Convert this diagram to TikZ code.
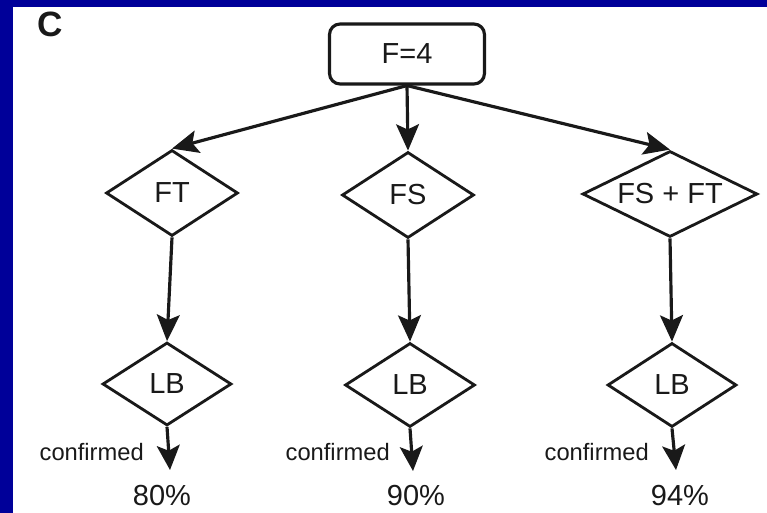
\documentclass[tikz,border=0pt]{standalone}
\usepackage{fontspec}
\setmainfont{Liberation Sans}
\usetikzlibrary{shapes.geometric,arrows.meta}
\definecolor{frameblue}{RGB}{0,0,153}
\definecolor{ink}{RGB}{25,25,25}
\begin{document}
\begin{tikzpicture}[x=0.02cm,y=-0.02cm,
  every node/.style={text=ink,font=\fontsize{16.5}{19}\selectfont},
  choice/.style={diamond,aspect=2,draw=ink,line width=1.6pt,inner sep=0pt,
    minimum width=2.64cm,minimum height=1.72cm},
  startbox/.style={draw=ink,rounded corners=6pt,line width=1.8pt,
    minimum width=3.1cm,minimum height=1.2cm},
  link/.style={draw=ink,line width=1.8pt,
    -{Stealth[length=15pt,width=13pt,inset=3pt]}},
  exitlink/.style={link,-{Stealth[length=14pt,width=13pt,inset=3pt]}},
  note/.style={font=\fontsize{13.5}{16}\selectfont,anchor=east},
  rate/.style={font=\fontsize{16.5}{19}\selectfont}]
\useasboundingbox (0,0) rectangle (767,513);
% frame
\fill[frameblue] (0,0) rectangle (767,513);
\fill[white] (13,7) rectangle (767,513);
% panel letter
\node[font=\fontsize{20}{24}\selectfont\bfseries] (panel) at (50,24) {C};
% root
\node[startbox] (root) at (407,54) {F=4};
% first level
\node[choice] (ft) at (172,193) {FT};
\node[choice] (fs) at (408,195) {FS};
\node[choice,minimum width=3.5cm] (fsft) at (670,194) {FS + FT};
% second level
\node[choice,minimum width=2.58cm,minimum height=1.66cm] (lb1) at (167,384) {LB};
\node[choice,minimum width=2.6cm,minimum height=1.68cm] (lb2) at (410,385) {LB};
\node[choice,minimum width=2.58cm,minimum height=1.68cm] (lb3) at (672,385) {LB};
% ends of the exit arrows
\coordinate (e1) at (170,470);
\coordinate (e2) at (413,471);
\coordinate (e3) at (676,470);
% connectors
\draw[link] (root.south) -- (ft.north);
\draw[link] (root.south) -- (fs.north);
\draw[link] (root.south) -- (fsft.north);
\draw[link] (ft.south) -- (lb1.north);
\draw[link] (fs.south) -- (lb2.north);
\draw[link] (fsft.south) -- (lb3.north);
\draw[exitlink] (lb1.south) -- (e1);
\draw[exitlink] (lb2.south) -- (e2);
\draw[exitlink] (lb3.south) -- (e3);
% labels
\node[note] (c1) at (150,452) {confirmed};
\node[note] (c2) at (396,452) {confirmed};
\node[note] (c3) at (655,452) {confirmed};
\node[rate] (r1) at (162,496) {80\%};
\node[rate] (r2) at (416,496) {90\%};
\node[rate] (r3) at (680,496) {94\%};
\end{tikzpicture}
\end{document}
